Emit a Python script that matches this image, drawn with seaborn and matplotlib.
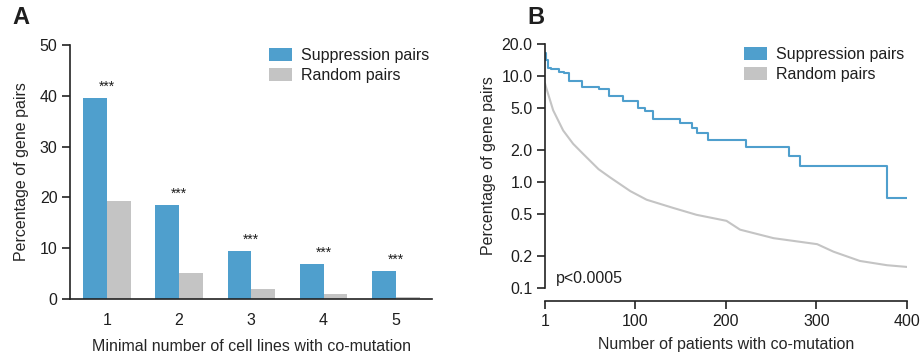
import numpy as np
import pandas as pd
import matplotlib
matplotlib.use("Agg")
import matplotlib.pyplot as plt
import seaborn as sns
from matplotlib.patches import Patch

# ---------------- data ----------------
cell_lines = ["1", "2", "3", "4", "5"]
supp_pct = [39.6, 18.6, 9.4, 6.9, 5.5]
rand_pct = [19.2, 5.1, 2.0, 0.9, 0.4]
sig_labels = ["***", "***", "***", "***", "***"]

blue_x = [1, 2, 4, 8, 16, 22, 28, 42, 60, 71, 87, 104, 111, 120, 150, 163, 168, 181, 223, 270, 282, 378, 400]
blue_y = [16.5, 14.0, 12.0, 11.5, 11.0, 10.6, 9.0, 7.9, 7.5, 6.45, 5.8, 5.0, 4.7, 3.95, 3.6, 3.2, 2.9, 2.5, 2.12, 1.77, 1.42, 0.71, 0.71]

grey_x = [1, 2, 10, 21, 32, 43, 60, 73, 95, 113, 142, 168, 201, 216, 253, 301, 319, 348, 378, 400]
grey_y = [8.5, 7.9, 4.74, 3.06, 2.29, 1.84, 1.32, 1.10, 0.82, 0.68, 0.57, 0.49, 0.43, 0.355, 0.295, 0.259, 0.22, 0.18, 0.164, 0.158]

series_names = ["Suppression pairs", "Random pairs"]
blue = "#4f9fcd"
grey = "#c4c4c4"

# ---------------- style ----------------
sns.set_theme(style="ticks")
plt.rcParams['font.family'] = ['Liberation Sans', 'DejaVu Sans']
plt.rcParams['axes.linewidth'] = 1.2
plt.rcParams['xtick.major.width'] = 1.2
plt.rcParams['ytick.major.width'] = 1.2
plt.rcParams['axes.edgecolor'] = '#222222'
plt.rcParams['text.color'] = '#1e1e1e'
plt.rcParams['xtick.labelcolor'] = '#1e1e1e'
plt.rcParams['ytick.labelcolor'] = '#1e1e1e'

FS = 11.5

fig = plt.figure(figsize=(9.21, 3.58), dpi=100)
W, H = 921, 358

def ax_rect(x0, x1, ytop, ybot):
    return [x0 / W, (H - ybot) / H, (x1 - x0) / W, (ybot - ytop) / H]

def add_legend(ax):
    handles = [Patch(facecolor=blue, edgecolor='none'), Patch(facecolor=grey, edgecolor='none')]
    ax.legend(handles, series_names, loc='upper right', bbox_to_anchor=(1.0, 1.0), frameon=False,
              fontsize=FS, handlelength=1.4, handleheight=0.9, handletextpad=0.55, labelspacing=0.3,
              borderaxespad=0.0, borderpad=0.2)

# ---------------- panel A ----------------
axA = fig.add_axes(ax_rect(70, 432, 45, 299))
dfA = pd.DataFrame({
    "cat": cell_lines * 2,
    "pct": supp_pct + rand_pct,
    "series": [series_names[0]] * 5 + [series_names[1]] * 5,
})
sns.barplot(data=dfA, x="cat", y="pct", hue="series", palette=[blue, grey],
            width=0.66, ax=axA, legend=False, saturation=1, linewidth=0)
axA.set_xlim(-0.51, 4.5)
axA.set_ylim(0, 50)
axA.set_yticks([0, 10, 20, 30, 40, 50])
axA.tick_params(axis='y', labelsize=FS, length=6, color='#222222', pad=3)
axA.tick_params(axis='x', labelsize=FS, length=0, pad=10)
axA.set_xlabel("Minimal number of cell lines with co-mutation", fontsize=FS, labelpad=8)
axA.set_ylabel("Percentage of gene pairs", fontsize=FS, labelpad=8)
sns.despine(ax=axA)
for i, (v, s) in enumerate(zip(supp_pct, sig_labels)):
    axA.text(i, v + 0.8, s, ha='center', va='bottom', fontsize=10)
add_legend(axA)

# ---------------- panel B ----------------
axB = fig.add_axes(ax_rect(545, 907, 44, 288))
dfB = pd.DataFrame({
    "x": blue_x + grey_x,
    "y": blue_y + grey_y,
    "series": [series_names[0]] * len(blue_x) + [series_names[1]] * len(grey_x),
})
sns.lineplot(data=dfB[dfB.series == series_names[0]], x="x", y="y", color=blue,
             drawstyle='steps-post', linewidth=1.5, ax=axB)
sns.lineplot(data=dfB[dfB.series == series_names[1]], x="x", y="y", color=grey,
             linewidth=1.5, ax=axB)
axB.set_yscale('log')
axB.set_ylim(0.1, 20)
axB.set_xlim(1, 400)
yt = [0.1, 0.2, 0.5, 1.0, 2.0, 5.0, 10.0, 20.0]
axB.set_yticks(yt)
axB.set_yticklabels([f"{v:.1f}" for v in yt])
axB.minorticks_off()
axB.set_xticks([1, 100, 200, 300, 400])
axB.tick_params(axis='both', labelsize=FS, length=6, color='#222222', pad=3)
sns.despine(ax=axB)
axB.spines['bottom'].set_position(('outward', 9.5))
axB.set_xlabel("Number of patients with co-mutation", fontsize=FS, labelpad=6)
axB.set_ylabel("Percentage of gene pairs", fontsize=FS, labelpad=4)
axB.text(0.03, 0.01, "p<0.0005", transform=axB.transAxes, fontsize=FS, ha='left', va='bottom')
add_legend(axB)

fig.text(12 / W, 1 - 29 / H, "A", fontsize=17, fontweight='bold', ha='left', va='bottom')
fig.text(527 / W, 1 - 29 / H, "B", fontsize=17, fontweight='bold', ha='left', va='bottom')

fig.savefig("out.png", dpi=100)
